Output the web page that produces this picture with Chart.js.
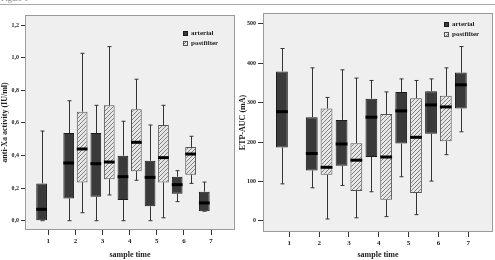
<!DOCTYPE html>
<html>
<head>
<meta charset="utf-8">
<script src="https://cdn.jsdelivr.net/npm/chart.js@4"></script>
<style>
  body { margin: 0; width: 495px; height: 260px; background: #fff; overflow: hidden; position: relative; font-family: 'Liberation Serif', serif; }
  #fig { position: absolute; left: 1px; top: -6px; font-size: 8px; color: #888; }
  #rule { position: absolute; left: 0; top: 4px; width: 495px; height: 1px; background: #aaa; }
  #c1 { position: absolute; left: 0; top: 0; }
  #c2 { position: absolute; left: 238px; top: 0; }
</style>
</head>
<body>
<div id="fig">Figure 1</div>
<div id="rule"></div>
<canvas id="c1" width="238" height="260"></canvas>
<canvas id="c2" width="257" height="260"></canvas>
<script>
const sampleTimes = [1, 2, 3, 4, 5, 6, 7];
const seriesNames = ['arterial', 'postfilter'];

// anti-Xa activity (IU/ml)
const xaTicks = [0, 0.2, 0.4, 0.6, 0.8, 1.0, 1.2];
const xaArtMin = [0, 0, 0, 0, 0, 0.117, 0.058];
const xaArtQ1 = [0, 0.137, 0.147, 0.127, 0.088, 0.166, 0.058];
const xaArtMed = [0.07, 0.354, 0.35, 0.27, 0.266, 0.221, 0.109];
const xaArtQ3 = [0.229, 0.538, 0.538, 0.399, 0.368, 0.27, 0.178];
const xaArtMax = [0.55, 0.736, 0.708, 0.61, 0.587, 0.307, 0.237];
const xaPostMin = [null, 0.049, 0.158, 0.248, 0.018, 0.229, null];
const xaPostQ1 = [null, 0.235, 0.254, 0.304, 0.235, 0.282, null];
const xaPostMed = [null, 0.44, 0.36, 0.481, 0.387, 0.409, null];
const xaPostQ3 = [null, 0.669, 0.708, 0.684, 0.587, 0.452, null];
const xaPostMax = [null, 1.027, 1.068, 0.868, 0.708, 0.518, null];

// ETP-AUC (mA)
const etpTicks = [0, 100, 200, 300, 400, 500];
const etpArtMin = [94, 84, 90, 74, 112, 101, 226];
const etpArtQ1 = [186, 128, 140, 162, 196, 221, 285];
const etpArtMed = [277, 171, 195, 263, 279, 294, 345];
const etpArtQ3 = [379, 263, 256, 310, 327, 329, 376];
const etpArtMax = [437, 388, 383, 356, 360, 360, 442];
const etpPostMin = [null, 5, 8, 11, 16, 168, null];
const etpPostQ1 = [null, 117, 76, 54, 71, 202, null];
const etpPostMed = [null, 136, 154, 162, 212, 289, null];
const etpPostQ3 = [null, 285, 197, 271, 311, 317, null];
const etpPostMax = [null, 313, 362, 327, 356, 388, null];

const serif = "'Liberation Serif', 'DejaVu Serif', serif";
const ink = '#222';

function hatch() {
  const c = document.createElement('canvas');
  c.width = 4; c.height = 4;
  const g = c.getContext('2d');
  g.fillStyle = '#e6e6e6'; g.fillRect(0, 0, 4, 4);
  g.strokeStyle = '#808080'; g.lineWidth = 1;
  g.beginPath();
  g.moveTo(0, 4); g.lineTo(4, 0);
  g.moveTo(-1, 1); g.lineTo(1, -1);
  g.moveTo(3, 5); g.lineTo(5, 3);
  g.stroke();
  return g.createPattern(c, 'repeat');
}
const hatchFill = hatch();

function boxes(min, q1, med, q3, max) {
  return sampleTimes.map((t, i) => q1[i] == null ? null :
    { x: t, y: [q1[i], q3[i]], min: min[i], med: med[i], max: max[i] }).filter(Boolean);
}

const frame = {
  id: 'frame',
  beforeDatasetsDraw(chart) {
    const { ctx, chartArea: a } = chart;
    ctx.save();
    ctx.fillStyle = '#efefef';
    ctx.fillRect(a.left, a.top, a.width, a.height);
    ctx.strokeStyle = '#9a9a9a';
    ctx.lineWidth = 1;
    ctx.strokeRect(a.left + 0.5, a.top + 0.5, a.width - 1, a.height - 1);
    ctx.restore();
  }
};

const whiskers = {
  id: 'whiskers',
  afterDatasetsDraw(chart) {
    const ctx = chart.ctx, ys = chart.scales.y;
    chart.data.datasets.forEach((ds, di) => {
      chart.getDatasetMeta(di).data.forEach((bar, i) => {
        const d = ds.data[i];
        const { x, width } = bar.getProps(['x', 'width'], true);
        const cx = Math.round(x) + 0.5;
        const pMin = ys.getPixelForValue(d.min), pMax = ys.getPixelForValue(d.max);
        const pQ1 = ys.getPixelForValue(d.y[0]), pQ3 = ys.getPixelForValue(d.y[1]);
        const pMed = ys.getPixelForValue(d.med);
        ctx.save();
        ctx.strokeStyle = '#333';
        ctx.lineWidth = 1;
        ctx.beginPath();
        ctx.moveTo(cx, pQ3); ctx.lineTo(cx, pMax);
        ctx.moveTo(cx, pQ1); ctx.lineTo(cx, pMin);
        ctx.moveTo(cx - 2, pMax); ctx.lineTo(cx + 2, pMax);
        ctx.moveTo(cx - 2, pMin); ctx.lineTo(cx + 2, pMin);
        ctx.stroke();
        ctx.strokeStyle = '#000';
        ctx.lineWidth = 3;
        ctx.beginPath();
        ctx.moveTo(x - width / 2, pMed); ctx.lineTo(x + width / 2, pMed);
        ctx.stroke();
        ctx.restore();
      });
    });
  }
};

const boxLegend = {
  id: 'boxLegend',
  afterDraw(chart, args, opts) {
    const ctx = chart.ctx;
    ctx.save();
    ctx.font = 'bold 7px ' + serif;
    ctx.textBaseline = 'middle';
    chart.data.datasets.forEach((ds, i) => {
      const y = opts.y + i * 10;
      ctx.fillStyle = ds.backgroundColor;
      ctx.fillRect(opts.x, y, 5, 5);
      ctx.strokeStyle = ds.borderColor;
      ctx.lineWidth = 1;
      ctx.strokeRect(opts.x + 0.5, y + 0.5, 4, 4);
      ctx.fillStyle = ink;
      ctx.fillText(ds.label, opts.x + 8, y + 2.5);
    });
    ctx.restore();
  }
};

function makeChart(id, cfg) {
  return new Chart(document.getElementById(id), {
    type: 'bar',
    data: {
      datasets: [
        { label: seriesNames[0], data: cfg.art, backgroundColor: '#3a3a3a', borderColor: '#1a1a1a', borderWidth: 1, borderSkipped: false },
        { label: seriesNames[1], data: cfg.post, backgroundColor: hatchFill, borderColor: '#555', borderWidth: 1, borderSkipped: false }
      ]
    },
    options: {
      responsive: false,
      animation: false,
      devicePixelRatio: 1,
      categoryPercentage: 0.99,
      barPercentage: 0.8,
      layout: { padding: cfg.padding },
      plugins: { legend: { display: false }, tooltip: { enabled: false }, boxLegend: cfg.legend },
      scales: {
        x: {
          type: 'linear', min: cfg.xMin, max: cfg.xMax, offset: false,
          afterBuildTicks: a => { a.ticks = sampleTimes.map(v => ({ value: v })); },
          afterFit: s => { s.height = cfg.xHeight; },
          grid: { offset: false, drawOnChartArea: false, tickLength: 5, color: '#333' },
          border: { display: false },
          ticks: { font: { family: serif, size: 7, weight: 'bold' }, color: ink, padding: 2, maxRotation: 0 },
          title: { display: true, text: 'sample time', font: { family: serif, size: 8, weight: 'bold' }, color: ink, padding: 0 }
        },
        y: {
          min: cfg.yMin, max: cfg.yMax,
          afterBuildTicks: a => { a.ticks = cfg.ticks.map(v => ({ value: v })); },
          afterFit: s => { s.width = 25; },
          grid: { drawOnChartArea: false, tickLength: cfg.tickLen, color: '#333' },
          border: { display: false },
          ticks: { font: { family: serif, size: 6, weight: 'bold' }, color: ink, padding: 2, callback: cfg.fmt },
          title: { display: true, text: cfg.title, font: { family: serif, size: 8, weight: 'bold' }, color: ink, padding: 0 }
        }
      }
    },
    plugins: [frame, whiskers, boxLegend]
  });
}

makeChart('c1', {
  art: boxes(xaArtMin, xaArtQ1, xaArtMed, xaArtQ3, xaArtMax),
  post: boxes(xaPostMin, xaPostQ1, xaPostMed, xaPostQ3, xaPostMax),
  ticks: xaTicks, yMin: -0.057, yMax: 1.262, xMin: 0.14, xMax: 7.885,
  padding: { top: 15, right: 3, left: 0, bottom: 0 }, xHeight: 30, tickLen: 4,
  legend: { x: 183, y: 31 },
  title: 'anti-Xa activity (IU/ml)',
  fmt: v => v.toFixed(1).replace('.', ',')
});

makeChart('c2', {
  art: boxes(etpArtMin, etpArtQ1, etpArtMed, etpArtQ3, etpArtMax),
  post: boxes(etpPostMin, etpPostQ1, etpPostMed, etpPostQ3, etpPostMax),
  ticks: etpTicks, yMin: -28, yMax: 527, xMin: 0.118, xMax: 7.83,
  padding: { top: 13, right: 2, left: 0, bottom: 0 }, xHeight: 28, tickLen: 5,
  legend: { x: 206, y: 22 },
  title: 'ETP-AUC (mA)',
  fmt: v => String(v)
});
</script>
</body>
</html>
